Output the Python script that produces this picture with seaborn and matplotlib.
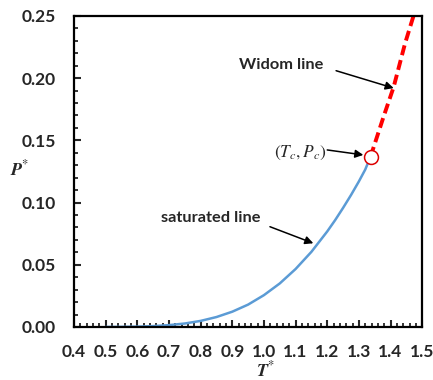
import matplotlib
matplotlib.use("Agg")
import matplotlib.pyplot as plt
import seaborn as sns
import pandas as pd
from matplotlib.ticker import MultipleLocator, FormatStrFormatter

# ---- data ----
sat_T = [0.50, 0.55, 0.60, 0.65, 0.70, 0.75, 0.80, 0.85, 0.90, 0.95, 1.00, 1.05,
         1.10, 1.15, 1.20, 1.225, 1.25, 1.275, 1.30, 1.32, 1.337]
sat_P = [0.00003, 0.00012, 0.0003, 0.0007, 0.0015, 0.0028, 0.0049, 0.0080, 0.0123,
         0.0180, 0.0256, 0.0350, 0.0466, 0.0604, 0.0768, 0.0859, 0.0957, 0.106,
         0.117, 0.1265, 0.137]
widom_T = [1.337, 1.378, 1.410, 1.446, 1.475]
widom_P = [0.137, 0.169, 0.193, 0.228, 0.252]
crit_T = [1.337]
crit_P = [0.137]
x_ticks = [0.4, 0.5, 0.6, 0.7, 0.8, 0.9, 1.0, 1.1, 1.2, 1.3, 1.4, 1.5]
y_ticks = [0.00, 0.05, 0.10, 0.15, 0.20, 0.25]

sns.set_style("ticks")
plt.rcParams["mathtext.fontset"] = "stix"
plt.rcParams["font.family"] = ["Lato", "DejaVu Sans"]

sat = pd.DataFrame({"T": sat_T, "P": sat_P})
wid = pd.DataFrame({"T": widom_T, "P": widom_P})

fig = plt.figure(figsize=(4.33, 3.80), dpi=100)
ax = fig.add_axes([0.171, 0.1395, 0.804, 0.8185])

sns.lineplot(data=sat, x="T", y="P", ax=ax, color="#5B9BD5", linewidth=1.8, sort=False)
sns.lineplot(data=wid, x="T", y="P", ax=ax, color="#FF0000", linewidth=2.8,
             linestyle=(0, (2.6, 1.3)), sort=False)
ax.plot(crit_T, crit_P, marker="o", markersize=10, markerfacecolor="white",
        markeredgecolor="#DD0000", markeredgewidth=1.1, linestyle="none", zorder=5)

ax.set_xlim(0.4, 1.5)
ax.set_ylim(0.0, 0.25)
ax.set_xticks(x_ticks)
ax.set_yticks(y_ticks)
ax.xaxis.set_major_formatter(FormatStrFormatter("%.1f"))
ax.yaxis.set_major_formatter(FormatStrFormatter("%.2f"))
ax.xaxis.set_minor_locator(MultipleLocator(0.02))
ax.yaxis.set_minor_locator(MultipleLocator(0.01))
ax.tick_params(axis="both", which="major", direction="in", length=5, width=1.5,
               labelsize=12.5, top=False, right=False)
ax.tick_params(axis="x", which="major", pad=12)
ax.tick_params(axis="y", which="major", pad=13)
ax.tick_params(axis="both", which="minor", direction="in", length=3, width=1.3,
               top=False, right=False)
for lab in ax.get_xticklabels() + ax.get_yticklabels():
    lab.set_fontweight("bold")
for s in ax.spines.values():
    s.set_visible(True)
    s.set_linewidth(1.6)
    s.set_color("black")

ax.set_xlabel(r"$\mathbfit{T}^{*}$", fontsize=13)
ax.xaxis.set_label_coords(0.55, -0.135)
ax.xaxis.label.set_va("center")
ax.set_ylabel(r"$\mathbfit{P}^{*}$", fontsize=13, rotation=0, labelpad=0, va="center")
ax.yaxis.set_label_coords(-0.155, 0.51)

# annotations
ax.text(1.056, 0.2106, "Widom line", ha="center", va="center", fontsize=11.8,
        fontweight="bold")
ax.annotate("", xy=(1.410, 0.192), xytext=(1.228, 0.206),
            arrowprops=dict(arrowstyle="-|>", color="black", lw=1.1,
                            mutation_scale=12, shrinkA=0, shrinkB=0))
ax.text(1.114, 0.1400, r"$(T_c, P_c)$", ha="center", va="center", fontsize=12.5)
ax.annotate("", xy=(1.314, 0.1383), xytext=(1.200, 0.1423),
            arrowprops=dict(arrowstyle="-|>", color="black", lw=1.1,
                            mutation_scale=12, shrinkA=0, shrinkB=0))
ax.text(0.833, 0.0874, "saturated line", ha="center", va="center", fontsize=11.8,
        fontweight="bold")
ax.annotate("", xy=(1.156, 0.0673), xytext=(1.019, 0.0806),
            arrowprops=dict(arrowstyle="-|>", color="black", lw=1.1,
                            mutation_scale=12, shrinkA=0, shrinkB=0))

fig.savefig("out.png", dpi=100)
